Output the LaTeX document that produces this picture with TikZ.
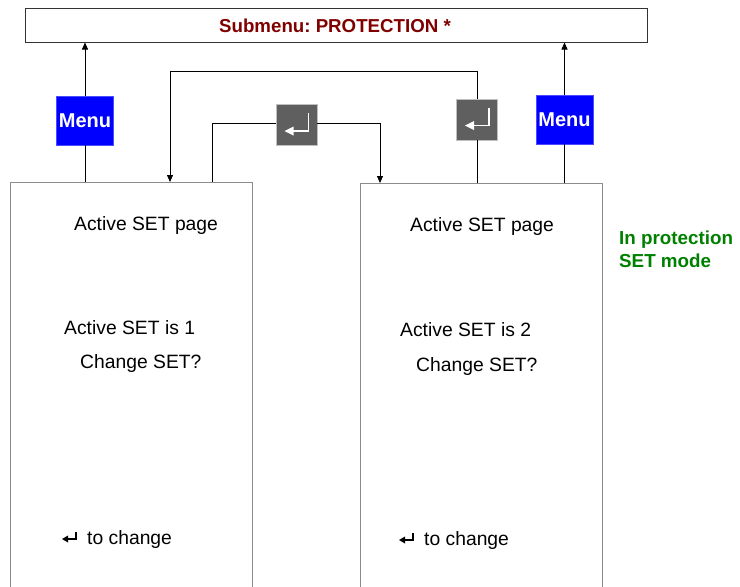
\documentclass[tikz,border=0pt]{standalone}
\usepackage{fontspec}
\setmainfont{Liberation Sans}
\usetikzlibrary{arrows.meta}
\definecolor{titlered}{HTML}{800000}
\definecolor{keygray}{HTML}{5F5F5F}
\definecolor{modegreen}{HTML}{008000}
\frenchspacing
\begin{document}
\begin{tikzpicture}[x=1pt,y=-1pt,
  bigbox/.style={draw=black!45,line width=1pt,minimum width=242pt,minimum height=420pt,inner sep=0pt},
  menukey/.style={fill=blue,draw=blue!70,minimum width=57pt,minimum height=49pt,inner sep=0pt,
    text=white,font=\bfseries\fontsize{20}{22}\selectfont},
  enterkey/.style={fill=keygray,draw=black!25,line width=0.8pt,minimum width=41pt,minimum height=41pt,inner sep=0pt},
  txt/.style={anchor=base west,inner sep=0pt,font=\fontsize{19.3}{22}\selectfont},
  modetxt/.style={anchor=base west,inner sep=0pt,text=modegreen,font=\bfseries\fontsize{18.8}{23}\selectfont},
  conn/.style={draw=black,line width=0.8pt},
  tip/.style={-{Triangle[length=7pt,width=6pt]}},
  glyph/.style={draw=white,line width=1.8pt},
  retsym/.style={draw=black,line width=1.3pt}
]
\clip (0,0) rectangle (740,587);
\fill[white] (0,0) rectangle (740,587);

% top submenu box
\node[draw=black!80,line width=1pt,minimum width=622pt,minimum height=34pt,inner sep=0pt]
  (top) at (336,25) {};
\node[anchor=base,inner sep=0pt,text=titlered,font=\bfseries\fontsize{18.7}{20}\selectfont]
  (title) at (335,32) {Submenu: PROTECTION *};

% big page boxes
\node[bigbox,anchor=north west] (lb) at (10,182) {};
\node[bigbox,anchor=north west] (rb) at (360,183) {};

% menu keys
\node[menukey] (menuL) at (85,120.5) {Menu};
\node[menukey] (menuR) at (564.5,119.5) {Menu};

% enter keys
\node[enterkey] (entA) at (296.5,125) {};
\node[enterkey] (entB) at (477,119.5) {};
\foreach \k in {entA,entB}{
  \draw[glyph] ([shift={(12,-12)}]\k.center) -- ([shift={(12,6)}]\k.center) -- ([shift={(-4,6)}]\k.center);
  \fill[white] ([shift={(-12,6)}]\k.center) -- ([shift={(-3,1.5)}]\k.center) -- ([shift={(-3,10.5)}]\k.center) -- cycle;
}

% menu connectors
\draw[conn] (lb.north -| menuL) -- (menuL.south);
\draw[conn,tip] (menuL.north) -- (top.south -| menuL);
\draw[conn] (rb.north -| menuR) -- (menuR.south);
\draw[conn,tip] (menuR.north) -- (top.south -| menuR);

% enter connectors
\coordinate (a0) at (212,182);
\coordinate (a1) at (212,123);
\coordinate (a2) at (380,123);
\coordinate (a3) at (380,183);
\draw[conn] (a0) -- (a1) -- (a1 -| entA.west);
\draw[conn,tip] (a2 -| entA.east) -- (a2) -- (a3);

\coordinate (b1) at (478,71);
\coordinate (b2) at (170,71);
\draw[conn] (rb.north -| entB) -- (entB.south);
\draw[conn,tip] (entB.north) -- (b1 -| entB) -- (b2) -- (lb.north -| b2);

% texts left page
\node[txt] (l1) at (74,230) {Active SET page};
\node[txt] (l2) at (64,334) {Active SET is 1};
\node[txt] (l3) at (80,368) {Change SET?};
\node[txt] (l4) at (87,544) {to change};
\coordinate (ls) at (62,538);

% texts right page
\node[txt] (r1) at (410,231) {Active SET page};
\node[txt] (r2) at (400,336) {Active SET is 2};
\node[txt] (r3) at (416,371) {Change SET?};
\node[txt] (r4) at (424,545) {to change};
\coordinate (rs) at (399,539);

% return symbols
\foreach \c in {ls,rs}{
  \draw[retsym] ([shift={(14,-6)}]\c) -- ([shift={(14,1)}]\c) -- ([shift={(4,1)}]\c);
  \fill[black] ([shift={(0,1)}]\c) -- ([shift={(6,-2.5)}]\c) -- ([shift={(6,4.5)}]\c) -- cycle;
}

% mode label
\node[modetxt] (mode1) at (619,244) {In protection};
\node[modetxt] (mode2) at (619,267) {SET mode};
\end{tikzpicture}
\end{document}
